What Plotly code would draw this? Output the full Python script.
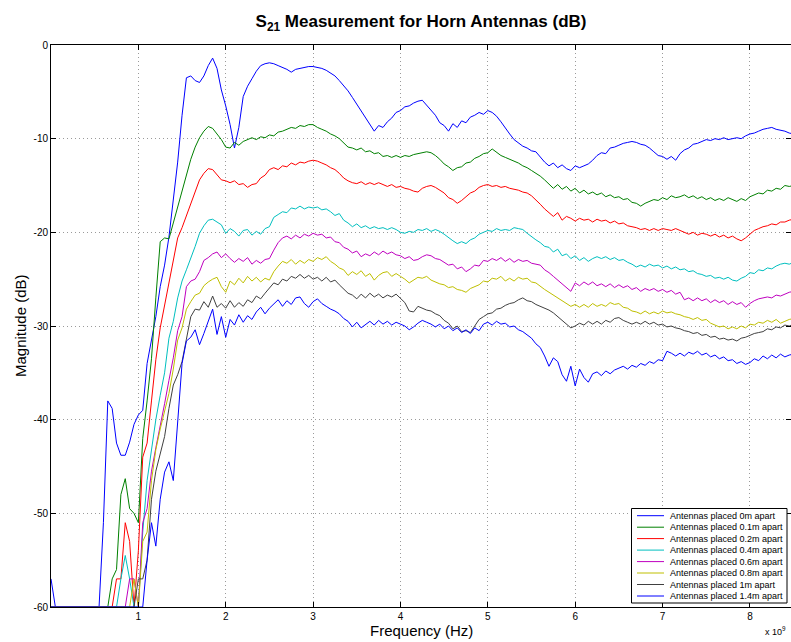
import numpy as np
import plotly.graph_objects as go

# Frequency sweep (Hz), 0 .. 8.5 GHz, 171 points
freq_hz = np.linspace(0, 8.5e9, 171)

s21_0m = [
 -57, -60, -60, -60, -60, -60, -60, -60, -60, -60,
 -60, -60, -51, -38.0, -38.8, -42.5, -43.8, -43.8, -42.4, -40.5,
 -39.5, -39, -34, -31.5, -29, -25.8, -23.5, -20.5, -16.5, -12.5,
 -7.5, -3.5, -3.3, -3.8, -4.0, -3.3, -2.2, -1.4, -2.5, -4.8,
 -6.5, -8.5, -11.0, -8.8, -5.5, -4.4, -3.6, -2.8, -2.2, -2.0,
 -1.9, -2.0, -2.2, -2.4, -2.6, -2.9, -2.6, -2.5, -2.4, -2.3,
 -2.3, -2.4, -2.5, -2.7, -3.0, -3.3, -3.8, -4.3, -4.9, -5.6,
 -6.3, -7.0, -7.7, -8.4, -9.2, -8.6, -8.8, -8.2, -7.8, -7.2,
 -7.0, -6.6, -6.5, -6.2, -6.0, -5.9, -6.4, -7.0, -7.5, -8.3,
 -8.6, -9.2, -8.4, -8.8, -8.1, -8.3, -7.7, -7.5, -7.2, -7.4,
 -7.0, -7.2, -7.6, -8.2, -8.9, -9.5, -10.1, -10.5, -10.8, -11.0,
 -11.3, -11.4, -12.0, -12.5, -12.9, -12.6, -13.1, -12.8, -13.2, -13.4,
 -12.9, -13.1, -12.9, -12.7, -12.3, -11.8, -11.5, -11.6, -11.0, -10.9,
 -10.7, -10.5, -10.4, -10.3, -10.4, -10.6, -10.7, -11.0, -11.4, -11.8,
 -11.9, -12.2, -11.9, -12.3, -11.6, -11.2, -11.0, -10.6, -10.5, -10.3,
 -10.1, -10.2, -10.0, -10.1, -9.9, -10.1, -10.0, -9.9, -10.0, -9.7,
 -9.5, -9.4, -9.2, -9.0, -8.9, -8.8, -9.0, -9.1, -9.2, -9.4,
 -9.5]

s21_01m = [
 -60, -60, -60, -60, -60, -60, -60, -60, -60, -60,
 -60, -60, -60, -60, -57, -56, -48, -46.3, -49.5, -50,
 -51, -42, -38, -33.5, -27, -21, -20.6, -20.7, -19.0, -17.3,
 -15.3, -13.8, -12.2, -10.9, -9.9, -9.2, -8.7, -8.9, -9.5, -10.1,
 -10.9, -11.0, -10.4, -10.7, -10.3, -10.1, -9.9, -10.1, -9.8, -9.9,
 -9.6, -9.7, -9.3, -9.2, -9.0, -8.8, -8.9, -8.6, -8.7, -8.5,
 -8.5, -8.8, -9.0, -9.2, -9.5, -9.7, -10.0, -10.5, -10.9, -11.0,
 -11.2, -11.0, -11.4, -11.3, -11.6, -11.5, -11.9, -11.8, -12.0, -11.8,
 -12.0, -11.8, -11.9, -11.7, -11.6, -11.5, -11.4, -11.5, -11.8, -12.2,
 -12.7, -13.0, -13.4, -13.1, -13.0, -12.6, -12.5, -12.1, -11.9, -11.6,
 -11.5, -11.1, -11.5, -11.8, -12.0, -12.2, -12.4, -12.6, -12.9, -13.1,
 -13.4, -13.7, -14.0, -14.4, -14.9, -15.3, -14.9, -15.4, -15.1, -15.6,
 -15.3, -15.8, -15.5, -15.9, -15.7, -16.0, -15.8, -16.2, -16.0, -16.3,
 -16.2, -16.5, -16.4, -16.8, -16.9, -17.2, -16.9, -16.7, -16.5, -16.6,
 -16.3, -16.5, -16.1, -16.3, -16.2, -16.0, -16.3, -16.1, -16.4, -16.2,
 -16.5, -16.3, -16.6, -16.4, -16.6, -16.3, -16.5, -16.7, -16.4, -16.6,
 -16.2, -16.0, -15.8, -15.9, -15.5, -15.6, -15.3, -15.4, -15.0, -15.1,
 -15.0]

s21_02m = [
 -60, -60, -60, -60, -60, -60, -60, -60, -60, -60,
 -60, -60, -60, -60, -60, -57, -57, -51, -53, -60,
 -54, -44, -42.5, -38, -33.6, -30.2, -27.8, -25, -22.8, -20.6,
 -19.5, -18.2, -17, -15.5, -14.4, -13.7, -13.2, -13.3, -13.8, -14.4,
 -14.5, -14.7, -14.5, -14.9, -14.8, -15.2, -14.9, -14.8, -14.2, -13.9,
 -13.3, -13.1, -13.3, -12.9, -13.0, -12.6, -12.8, -12.5, -12.6, -12.4,
 -12.3, -12.4, -12.6, -12.8, -13.1, -13.3, -13.7, -14.2, -14.5, -14.7,
 -14.8, -14.6, -14.9, -14.7, -14.9, -14.7, -14.9, -15.1, -14.9, -15.2,
 -15.1, -15.3, -15.4, -15.6, -15.7, -15.3, -15.1, -15.0, -15.2, -15.5,
 -15.8, -16.3, -16.5, -16.9, -16.6, -16.2, -15.8, -15.6, -15.2, -15.0,
 -14.9, -15.1, -15.0, -15.2, -15.1, -15.3, -15.4, -15.5, -15.7, -15.8,
 -16.1, -16.5, -17.0, -17.5, -17.9, -18.3, -17.9, -18.7, -18.3, -18.5,
 -18.8, -18.5, -18.7, -18.6, -18.9, -18.6, -18.8, -18.7, -19.0, -18.8,
 -19.1, -19.0, -19.3, -19.4, -19.5, -19.7, -19.6, -19.8, -19.6, -19.8,
 -19.6, -19.7, -19.8, -19.6, -19.8, -20.0, -20.2, -20.0, -20.3, -20.1,
 -20.2, -20.4, -20.2, -20.5, -20.3, -20.6, -20.4, -20.7, -20.9, -20.6,
 -20.2, -19.8, -19.6, -19.4, -19.3, -19.1, -19.2, -18.9, -18.9, -18.7,
 -18.6]

s21_04m = [
 -60, -60, -60, -60, -60, -60, -60, -60, -60, -60,
 -60, -60, -60, -60, -60, -60, -57, -54.5, -57, -60,
 -60, -52, -46.5, -43, -40, -37.4, -35, -31.3, -29.5, -27,
 -25.2, -24.0, -22.8, -21.5, -20.1, -19.3, -18.7, -18.6, -18.9, -19.2,
 -20.1, -19.6, -19.9, -20.4, -19.8, -19.7, -20.3, -19.9, -20.2, -19.6,
 -19.4, -18.4, -18.1, -17.8, -17.9, -17.4, -17.5, -17.2, -17.5, -17.3,
 -17.4, -17.3, -17.6, -17.5, -17.8, -18.2, -18.0, -18.7, -19.0, -19.4,
 -19.1, -19.5, -19.3, -19.6, -19.4, -19.6, -19.5, -19.7, -19.5, -19.7,
 -20.0, -20.1, -19.9, -20.0, -19.7, -19.8, -19.6, -19.9, -19.7, -19.9,
 -20.2, -20.6, -20.9, -21.2, -21.0, -21.2, -20.8, -20.6, -20.2, -20.0,
 -19.8, -19.9, -19.6, -19.8, -19.7, -19.8, -19.5, -19.6, -19.7, -20.1,
 -20.5, -20.8, -21.1, -21.5, -21.6, -22.1, -21.8, -22.5, -22.3, -22.8,
 -22.5, -23.0, -22.7, -23.1, -22.8, -22.6, -22.8, -22.6, -22.9, -22.7,
 -23.0, -22.9, -23.2, -23.4, -23.7, -23.5, -23.7, -23.4, -23.6, -23.5,
 -23.8, -23.6, -23.9, -23.7, -24.0, -23.9, -24.2, -24.1, -24.4, -24.5,
 -24.7, -24.6, -24.9, -24.8, -25.0, -24.8, -25.1, -25.2, -24.9, -24.7,
 -24.3, -24.4, -24.0, -24.1, -23.8, -23.9, -23.6, -23.4, -23.3, -23.4,
 -23.2]

s21_06m = [
 -60, -60, -60, -60, -60, -60, -60, -60, -60, -60,
 -60, -60, -60, -60, -60, -60, -60, -60, -57, -57,
 -60, -51, -49.5, -45.5, -43, -40.8, -38.3, -35.8, -33.4, -30.5,
 -29, -25.8, -25.2, -25.0, -24.2, -23.0, -22.7, -22.3, -22.1, -22.7,
 -22.3, -22.8, -23.2, -22.8, -23.1, -22.7, -23.4, -23.0, -23.3, -22.9,
 -22.8, -21.9, -21.1, -20.6, -20.4, -20.7, -20.3, -20.6, -20.2, -20.4,
 -20.1, -20.3, -20.2, -20.6, -20.5, -21.0, -21.1, -21.6, -21.8, -22.2,
 -22.0, -22.6, -22.3, -22.5, -22.1, -22.4, -22.0, -22.3, -22.1, -22.4,
 -22.5, -22.8, -22.6, -23.0, -22.9, -22.6, -22.4, -22.5, -22.8, -22.9,
 -23.2, -23.5, -23.4, -23.9, -23.7, -24.2, -23.9, -23.5, -23.6, -23.0,
 -23.1, -22.8, -23.0, -22.7, -23.1, -22.8, -23.2, -22.9, -23.1, -23.0,
 -23.3, -23.4, -23.5, -24.0, -24.3, -24.7, -25.1, -25.5, -25.9, -26.3,
 -25.4, -25.7, -25.3, -25.6, -25.3, -25.7, -25.5, -25.8, -25.5, -25.9,
 -25.6, -25.9, -25.7, -26.1, -25.9, -26.3, -26.0, -26.2, -26.0, -26.3,
 -26.1, -26.4, -26.2, -26.6, -26.4, -27.2, -27.0, -27.3, -27.0, -27.3,
 -27.1, -27.5, -27.2, -27.5, -27.3, -27.7, -27.4, -27.7, -27.5, -28.0,
 -27.6, -27.3, -27.1, -27.0, -26.9, -27.0, -26.7, -26.8, -26.6, -26.4,
 -26.3]

s21_08m = [
 -60, -60, -60, -60, -60, -60, -60, -60, -60, -60,
 -60, -60, -60, -60, -60, -60, -60, -60, -60, -57,
 -60, -53, -52, -46.5, -43.2, -41, -39, -37.2, -34.6, -31.5,
 -30.2, -28.2, -27.4, -26.7, -26.5, -25.7, -25.3, -25.0, -24.8, -25.8,
 -26.4, -25.2, -25.6, -24.9, -25.4, -24.7, -25.2, -24.8, -25.3, -24.9,
 -25.1, -24.2, -23.6, -23.1, -23.3, -22.9, -23.4, -23.0, -23.3, -22.9,
 -23.1, -22.7, -22.9, -22.6, -23.1, -23.4, -23.8, -24.0, -24.6, -24.2,
 -24.5, -24.1, -24.7, -24.4, -25.1, -24.6, -24.3, -24.2, -24.7, -24.4,
 -24.7, -25.0, -25.4, -25.1, -24.8, -24.9, -24.7, -25.1, -25.3, -25.5,
 -25.6, -25.9, -25.8, -26.1, -26.2, -26.4, -26.0, -25.8, -25.6, -25.2,
 -25.3, -24.9, -25.0, -24.7, -25.2, -24.9, -25.2, -24.8, -25.0, -24.9,
 -25.3, -25.4, -25.8, -26.1, -26.4, -26.7, -27.0, -27.3, -27.6, -27.9,
 -27.7, -28.0, -27.7, -28.0, -27.6, -27.9, -27.7, -27.9, -27.5, -27.7,
 -27.6, -28.0, -28.1, -28.4, -28.5, -28.7, -28.4, -28.7, -28.5, -28.7,
 -28.4, -28.6, -28.5, -28.7, -28.8, -29.0, -29.1, -29.3, -29.1, -29.4,
 -29.3, -29.7, -29.9, -30.1, -30.0, -30.3, -30.1, -30.3, -30.0, -30.2,
 -29.8, -29.9, -29.6, -29.7, -29.4, -29.6, -29.3, -29.7, -29.5, -29.3,
 -29.2]

s21_1m = [
 -60, -60, -60, -60, -60, -60, -60, -60, -60, -60,
 -60, -60, -60, -60, -60, -60, -60, -60, -60, -60,
 -57, -57, -55, -48.5, -45.5, -43.6, -41.8, -38.8, -36.3, -35.2,
 -33.8, -31.4, -29.0, -28.2, -28.3, -27.4, -28.0, -26.8, -28.0, -27.6,
 -28.1, -27.3, -28.0, -27.5, -27.9, -27.2, -27.5, -26.8, -27.1, -26.5,
 -25.9, -25.4, -25.6, -25.0, -25.2, -24.7, -24.9, -24.5, -24.9, -24.6,
 -25.0, -24.8, -25.2, -24.8, -25.3, -25.1, -25.6, -26.1, -26.5, -26.7,
 -27.1, -26.6, -27.0, -26.5, -26.9, -26.6, -27.0, -26.7, -26.9, -26.6,
 -27.0, -27.5, -28.4, -28.5, -27.9, -28.1, -28.3, -28.4, -28.7, -28.9,
 -29.4, -29.7, -30.3, -30.0, -30.6, -30.5, -30.7, -30.0, -29.3, -29.0,
 -28.7, -28.6, -28.2, -28.1, -27.8, -27.6, -27.5, -27.2, -27.0, -27.3,
 -27.4, -27.7, -27.9, -28.1, -28.3, -28.6, -29.0, -29.4, -29.8, -30.2,
 -30.0, -29.7, -29.9, -29.5, -29.8, -29.5, -29.8, -29.4, -29.6, -29.2,
 -29.1, -29.4, -29.6, -29.8, -29.6, -29.8, -29.5, -29.8, -29.6, -29.9,
 -29.8, -30.1, -30.0, -30.2, -30.3, -30.5, -30.6, -30.8, -30.7, -31.0,
 -30.9, -31.2, -31.1, -31.4, -31.3, -31.5, -31.4, -31.6, -31.3, -31.2,
 -31.0, -30.8, -30.7, -30.6, -30.3, -30.4, -30.1, -30.2, -29.9, -30.0,
 -29.8]

s21_14m = [
 -60, -60, -60, -60, -60, -60, -60, -60, -60, -60,
 -60, -60, -60, -60, -60, -60, -60, -60, -60, -60,
 -60, -60, -55, -51, -53.5, -48.5, -45.6, -44.5, -46.5, -40.5,
 -34.0, -31.6, -31.2, -30.4, -32.0, -30.8, -29.6, -28.2, -30.9, -29.0,
 -31.2, -29.3, -29.9, -28.8, -29.6, -28.9, -29.3, -28.5, -28.0, -28.7,
 -28.1, -27.6, -27.2, -27.9, -27.3, -27.7, -27.0, -26.9, -27.6, -28.0,
 -27.4, -27.1, -27.6, -27.9, -28.2, -28.4, -28.7, -29.2, -29.5, -30.1,
 -29.6, -30.2, -29.8, -29.5, -29.9, -29.4, -29.8, -29.5, -29.9, -29.6,
 -29.8, -30.0, -30.4, -30.1, -29.7, -29.4, -29.6, -29.8, -30.1, -29.8,
 -30.3, -30.0, -30.5, -30.2, -30.7, -30.4, -30.8, -30.2, -30.5, -29.8,
 -29.6, -29.9, -29.5, -29.8, -29.7, -30.1, -30.0, -30.4, -30.6, -31.0,
 -31.3, -31.9, -32.3, -33.2, -34.3, -33.4, -33.8, -35.2, -35.9, -34.3,
 -36.4, -34.6, -35.5, -36.0, -35.1, -34.9, -35.3, -34.8, -35.1, -34.7,
 -34.5, -34.3, -34.6, -34.2, -34.4, -34.0, -34.2, -33.8, -34.0, -33.6,
 -33.7, -32.7, -32.9, -33.2, -32.9, -33.2, -32.8, -33.0, -32.7, -33.1,
 -32.9, -33.3, -33.1, -33.5, -33.3, -33.7, -33.6, -34.0, -33.8, -34.1,
 -33.9, -33.5, -33.7, -33.2, -33.5, -33.1, -33.4, -33.0, -33.3, -33.1,
 -33.0]

series = [s21_0m, s21_01m, s21_02m, s21_04m, s21_06m, s21_08m, s21_1m, s21_14m]
labels = ["Antennas placed 0m apart", "Antennas placed 0.1m apart",
          "Antennas placed 0.2m apart", "Antennas placed 0.4m apart",
          "Antennas placed 0.6m apart", "Antennas placed 0.8m apart",
          "Antennas placed 1m apart", "Antennas placed 1.4m apart"]
colors = ["#0000FF", "#008000", "#FF0000", "#00BFBF",
          "#BF00BF", "#BFBF00", "#404040", "#0000FF"]

x_tickvals = [1e9, 2e9, 3e9, 4e9, 5e9, 6e9, 7e9, 8e9]
x_ticktext = ["1", "2", "3", "4", "5", "6", "7", "8"]
y_tickvals = [-60, -50, -40, -30, -20, -10, 0]
y_ticktext = ["-60", "-50", "-40", "-30", "-20", "-10", "0"]

for s in series:
    assert len(s) == len(freq_hz), len(s)

FONT = "Liberation Sans, Arial, Helvetica, sans-serif"
W, H = 791, 642
L, R, T, B = 51, 0, 45, 35
pw, ph = W - L - R, H - T - B

def px(xp):
    return (xp - L) / pw

def py(yp):
    return (H - B - yp) / ph

fig = go.Figure()
for s, lab, c in zip(series, labels, colors):
    fig.add_trace(go.Scatter(x=freq_hz, y=s, mode="lines", name=lab,
                             line=dict(color=c, width=1), showlegend=False))

axis_common = dict(showline=True, linecolor="black", linewidth=1, mirror="ticks",
                   ticks="inside", ticklen=5, tickcolor="black", tickwidth=1,
                   showgrid=True, gridcolor="#9a9a9a", gridwidth=1, griddash="1px,3px",
                   zeroline=False, tickfont=dict(family=FONT, size=10, color="black"))

fig.update_xaxes(range=[0, 8.47e9], tickvals=x_tickvals, ticktext=x_ticktext, **axis_common)
fig.update_yaxes(range=[-60, 0], tickvals=y_tickvals, ticktext=y_ticktext, **axis_common)

shapes = []
annotations = []
# legend box drawn as layout shapes/text
shapes.append(dict(type="rect", xref="paper", yref="paper",
                   x0=px(631.5), x1=px(787), y0=py(603), y1=py(508.5),
                   line=dict(color="black", width=1), fillcolor="white", layer="above"))
row_y = [515.7, 527.2, 538.6, 550.1, 561.6, 573.0, 584.5, 596.0]
for yy, lab, c in zip(row_y, labels, colors):
    shapes.append(dict(type="line", xref="paper", yref="paper",
                       x0=px(637), x1=px(664), y0=py(yy), y1=py(yy),
                       line=dict(color=c, width=1), layer="above"))
    annotations.append(dict(xref="paper", yref="paper", x=px(668), y=py(yy),
                            text=lab, showarrow=False, xanchor="left", yanchor="middle",
                            font=dict(family=FONT, size=9, color="black")))

annotations.append(dict(xref="paper", yref="paper", x=0.5, y=py(630),
                        text="Frequency (Hz)", showarrow=False, xanchor="center",
                        yanchor="middle", font=dict(family=FONT, size=15, color="black")))
annotations.append(dict(xref="paper", yref="paper", x=px(20), y=0.5,
                        text="Magnitude (dB)", showarrow=False, textangle=-90,
                        xanchor="center", yanchor="middle",
                        font=dict(family=FONT, size=15, color="black")))
annotations.append(dict(xref="paper", yref="paper", x=px(788), y=py(631),
                        text="x 10<sup>9</sup>", showarrow=False, xanchor="right",
                        yanchor="middle", font=dict(family=FONT, size=9, color="black")))

fig.update_layout(
    width=W, height=H, autosize=False,
    margin=dict(l=L, r=R, t=T, b=B, pad=0),
    paper_bgcolor="white", plot_bgcolor="white",
    title=dict(text="<b>S<sub>21</sub> Measurement for Horn Antennas (dB)</b>",
               x=421 / W, xanchor="center", xref="container",
               y=1 - 21 / H, yanchor="middle", yref="container",
               font=dict(family=FONT, size=17, color="black")),
    shapes=shapes, annotations=annotations,
    showlegend=False,
)

fig.write_html("out.html", config={"displayModeBar": False},
               post_script="document.body.style.margin='0';")
